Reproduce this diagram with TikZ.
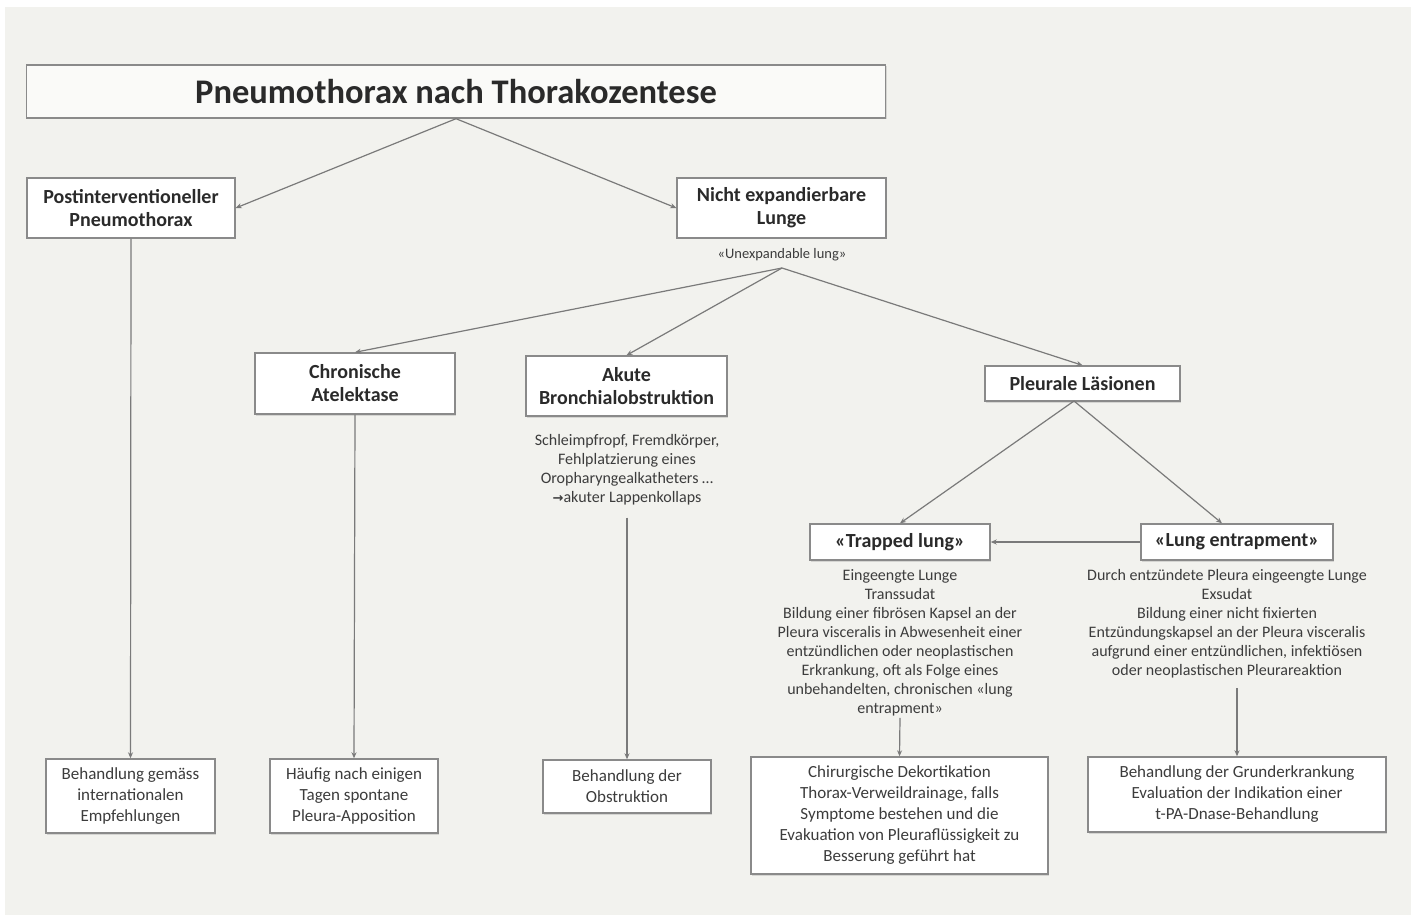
\documentclass[tikz,border=0pt]{standalone}
\usepackage{fontspec}
\setmainfont{Carlito}
\usetikzlibrary{arrows.meta,shadows}
\definecolor{bgc}{HTML}{F2F2EE}
\definecolor{boxc}{HTML}{8A8A8A}
\definecolor{linec}{HTML}{7A7A7A}
\definecolor{txt}{HTML}{2A2A2A}
\definecolor{dtxt}{HTML}{3C3C3C}
\tikzset{
  box/.style={draw=boxc, line width=1.4pt, fill=white, align=center, inner sep=0pt,
    text=txt, font=\bfseries\fontsize{20}{23}\selectfont,
    drop shadow={shadow xshift=1pt, shadow yshift=-1.5pt, opacity=0.25}},
  endbox/.style={box, font=\fontsize{17}{21}\selectfont, text=dtxt},
  desc/.style={align=center, inner sep=0pt, text=dtxt, font=\fontsize{16}{19}\selectfont},
  conn/.style={draw=linec, line width=1.2pt, -{Stealth[length=6pt,width=5pt]}}
}
\begin{document}
\begin{tikzpicture}[x=1pt,y=-1pt]
\useasboundingbox (0,0) rectangle (1416,917);
\fill[white] (0,0) rectangle (1416,917);
\fill[bgc] (5,7) rectangle (1411,915);

% title
\node[box, fill=white!60!bgc, minimum width=859pt, minimum height=53pt,
  font=\bfseries\fontsize{34.5}{38}\selectfont] (title) at (456,91.5) {Pneumothorax nach Thorakozentese};

% second level
\node[box, minimum width=208pt, minimum height=60pt] (post) at (131,208) {Postinterventioneller\\Pneumothorax};
\node[box, minimum width=209pt, minimum height=60pt] (nicht) at (781.5,208) {Nicht expandierbare\\Lunge};
\node[desc, font=\fontsize{14.5}{16}\selectfont] (unexp) at (782,255) {«Unexpandable lung»};
\coordinate (split) at (782,268);

% third level
\node[box, minimum width=200pt, minimum height=61pt] (chron) at (355,383.5) {Chronische\\Atelektase};
\node[box, minimum width=201pt, minimum height=60pt] (akute) at (626.5,386) {Akute\\Bronchialobstruktion};
\node[box, minimum width=195pt, minimum height=35pt] (pleur) at (1082.5,383.5) {Pleurale Läsionen};
\node[desc] (akdesc) at (627,470) {Schleimpfropf, Fremdkörper,\\Fehlplatzierung eines\\Oropharyngealkatheters …\\{\fontspec{DejaVu Sans}\bfseries\fontsize{13}{19}\selectfont →}akuter Lappenkollaps};

% fourth level
\node[box, minimum width=180pt, minimum height=36pt] (trap) at (900,542) {«Trapped lung»};
\node[box, minimum width=192pt, minimum height=36pt] (entr) at (1237,542) {«Lung entrapment»};
\coordinate (pbot) at (1074,401);

\node[desc, anchor=north] (trapdesc) at (900,569) {Eingeengte Lunge\\Transsudat\\Bildung einer fibrösen Kapsel an der\\Pleura visceralis in Abwesenheit einer\\entzündlichen oder neoplastischen\\Erkrankung, oft als Folge eines\\unbehandelten, chronischen «lung\\entrapment»};
\node[desc, anchor=north] (entrdesc) at (1227,569) {Durch entzündete Pleura eingeengte Lunge\\Exsudat\\Bildung einer nicht fixierten\\Entzündungskapsel an der Pleura visceralis\\aufgrund einer entzündlichen, infektiösen\\oder neoplastischen Pleurareaktion};

% bottom boxes
\node[endbox, minimum width=169pt, minimum height=74pt] (b1) at (130.5,796) {Behandlung gemäss\\internationalen\\Empfehlungen};
\node[endbox, minimum width=168pt, minimum height=74pt] (b2) at (354,796) {Häufig nach einigen\\Tagen spontane\\Pleura-Apposition};
\node[endbox, minimum width=168pt, minimum height=53pt] (b3) at (627,786.5) {Behandlung der\\Obstruktion};
\node[endbox, minimum width=297pt, minimum height=117pt] (b4) at (899.5,815.5) {Chirurgische Dekortikation\\Thorax-Verweildrainage, falls\\Symptome bestehen und die\\Evakuation von Pleuraflüssigkeit zu\\Besserung geführt hat};
\node[endbox, minimum width=298pt, minimum height=75pt] (b5) at (1237,794.5) {Behandlung der Grunderkrankung\\Evaluation der Indikation einer\\t-PA-Dnase-Behandlung};

% connectors
\draw[conn] (title.south) -- (post.east);
\draw[conn] (title.south) -- (nicht.west);
\draw[conn] (split) -- (chron.north);
\draw[conn] (split) -- (akute.north);
\draw[conn] (split) -- (pleur.north);
\draw[conn] (pbot) -- (trap.north);
\draw[conn] (pbot) -- ([xshift=-15pt]entr.north);
\draw[conn] (entr.west) -- (trap.east);
\draw[conn] (post.south) -- (b1.north);
\draw[conn] (chron.south) -- (b2.north);
\draw[conn] (akdesc.south) ++(0,12) -- (b3.north);
\draw[conn] (trapdesc.south) ++(0,2) -- (b4.north);
\draw[conn] (entrdesc.south) ++(10,10) -- (b5.north);
\end{tikzpicture}
\end{document}
